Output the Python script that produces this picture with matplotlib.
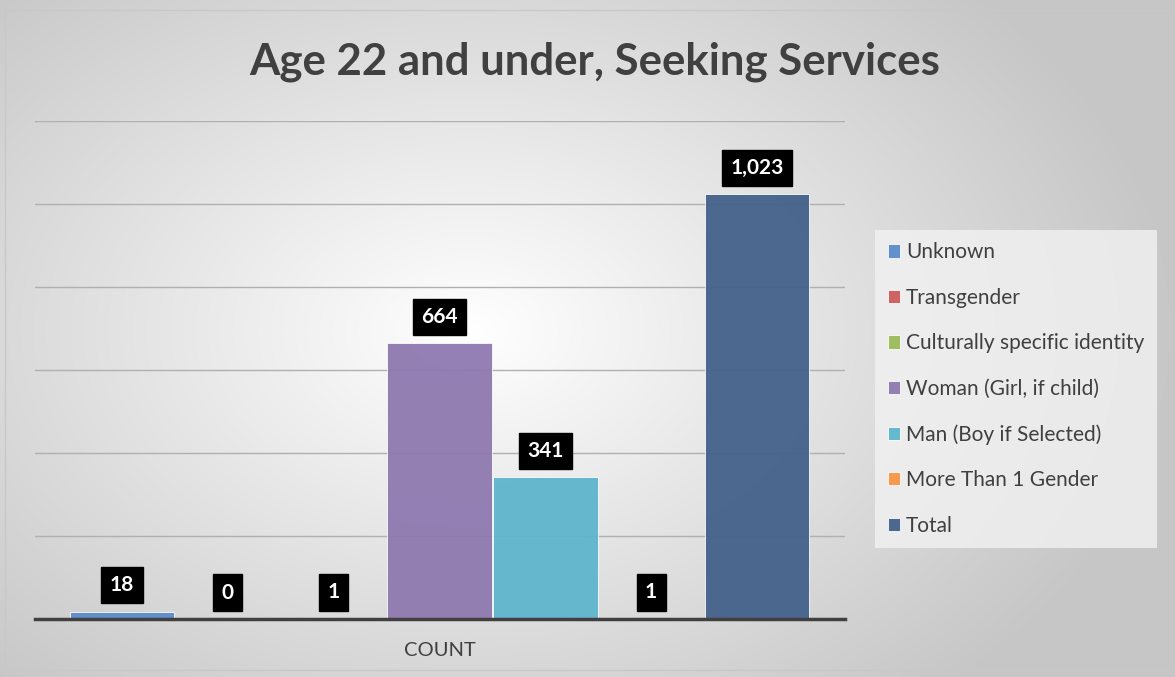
import numpy as np
import matplotlib.pyplot as plt
from matplotlib.patches import Rectangle

categories = ['Unknown', 'Transgender', 'Culturally specific identity',
              'Woman (Girl, if child)', 'Man (Boy if Selected)',
              'More Than 1 Gender', 'Total']
values = [18, 0, 1, 664, 341, 1, 1023]
colors = ['#5b8ccc', '#cc5c5a', '#9bbb59', '#8f79b0', '#5eb5cc', '#f79646', '#44618a']
x_label = 'COUNT'
title = 'Age 22 and under, Seeking Services'

plt.rcParams['font.family'] = ['Lato', 'DejaVu Sans']

fig = plt.figure(figsize=(11.75, 6.77), dpi=100)

# radial gradient background
bg = fig.add_axes([0, 0, 1, 1], zorder=-10)
yy, xx = np.mgrid[0:677, 0:1175]
r = np.sqrt(((xx - 470) / 700.0) ** 2 + ((yy - 330) / 480.0) ** 2)
g = np.clip(1.0 - 0.22 * r, 0.78, 1.0)
img = np.dstack([g, g, g])
bg.imshow(img, extent=[0, 1175, 677, 0], aspect='auto')
bg.add_patch(Rectangle((5, 10), 1165, 660, fill=False, ec='#c8c8c8', lw=1))
bg.set_xlim(0, 1175)
bg.set_ylim(677, 0)
bg.axis('off')

ax = fig.add_axes([35 / 1175, 1 - 619 / 677, 810 / 1175, 498 / 677])
ax.patch.set_alpha(0)
xs = np.arange(len(values))
for i, (v, c) in enumerate(zip(values, colors)):
    ax.bar(xs[i], v, width=0.99, color=c, edgecolor='#ffffff', linewidth=0.6,
           alpha=0.95, label=categories[i], zorder=3)
    ax.annotate(f'{v:,}', (xs[i], v), xytext=(0, 19), textcoords='offset points',
                ha='center', va='center', color='white', fontsize=15,
                fontweight='bold', zorder=5,
                bbox=dict(boxstyle='square,pad=0.4', fc='black', ec='black'))

ax.set_xlim(-0.822, 6.832)
ax.set_ylim(0, 1200)
ax.set_yticks(np.arange(0, 1201, 200))
ax.yaxis.grid(True, color='#b0b0b0', lw=1, zorder=0)
ax.tick_params(left=False, bottom=False, labelleft=False, labelbottom=False)
for s in ['top', 'right', 'left']:
    ax.spines[s].set_visible(False)
ax.spines['bottom'].set_color('#404040')
ax.spines['bottom'].set_linewidth(2.5)
ax.spines['bottom'].set_zorder(6)

fig.text(440 / 1175, 1 - 651 / 677, x_label, ha='center', va='center',
         fontsize=14.5, color='#404040')
fig.text(595 / 1175, 1 - 62 / 677, title, ha='center', va='center',
         fontsize=31.5, fontweight='bold', color='#404040')

leg = fig.legend(loc='center left', bbox_to_anchor=(875 / 1175, 1 - 389 / 677),
                 frameon=True, fontsize=15, labelcolor='#404040',
                 handlelength=0.6, handleheight=0.6, handletextpad=0.3,
                 labelspacing=1.22, borderpad=0.6, borderaxespad=0,
                 fancybox=False)
leg.get_frame().set_facecolor('#f2f2f2')
leg.get_frame().set_alpha(0.8)
leg.get_frame().set_edgecolor('none')

fig.savefig('out.png', dpi=100)
